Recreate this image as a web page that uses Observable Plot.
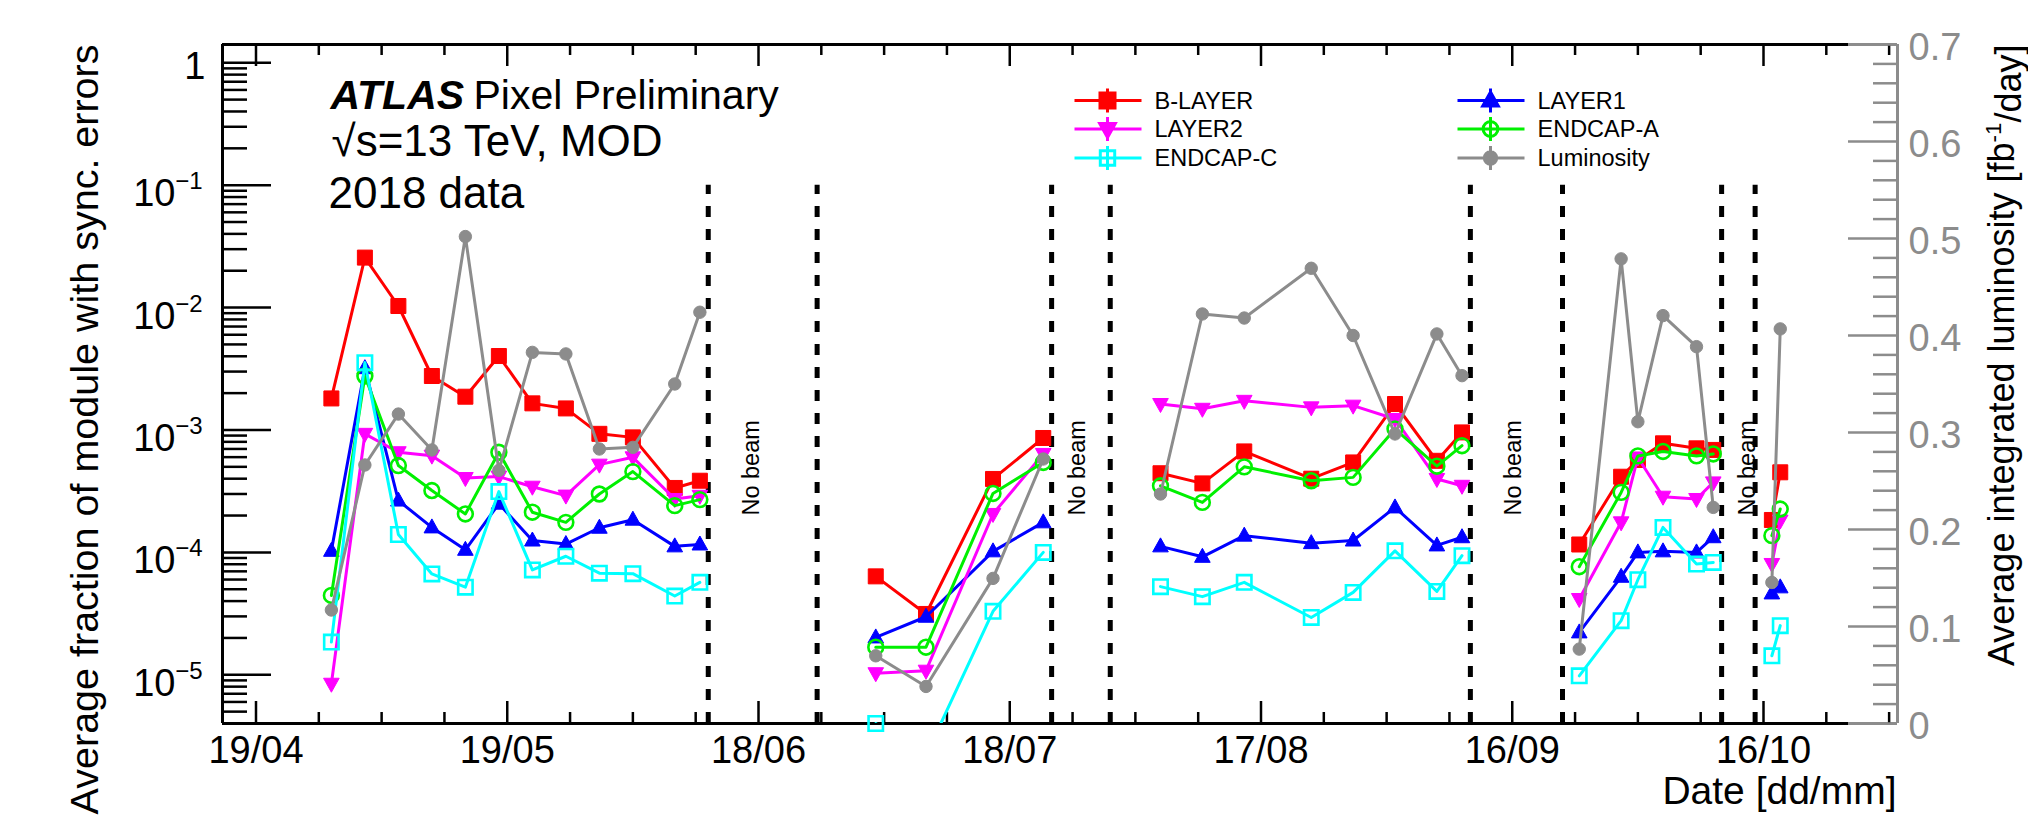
<!DOCTYPE html>
<html><head><meta charset="utf-8">
<script src="https://cdn.jsdelivr.net/npm/d3@7"></script>
<script src="https://cdn.jsdelivr.net/npm/@observablehq/plot@0.6"></script>
<style>
html,body{margin:0;padding:0;background:#fff;}
#chart{position:relative;width:2028px;height:829px;overflow:hidden;background:#fff;}
#chart svg{position:absolute;left:0;top:0;}
</style></head><body><div id="chart"></div>
<script>
// ---------------- data ----------------
const dates = [
  "2018-04-28","2018-05-02","2018-05-06","2018-05-10","2018-05-14","2018-05-18","2018-05-22","2018-05-26","2018-05-30","2018-06-03","2018-06-08","2018-06-11",
  "2018-07-02","2018-07-08","2018-07-16","2018-07-22",
  "2018-08-05","2018-08-10","2018-08-15","2018-08-23","2018-08-28","2018-09-02","2018-09-07","2018-09-10",
  "2018-09-24","2018-09-29","2018-10-01","2018-10-04","2018-10-08","2018-10-10",
  "2018-10-17","2018-10-18"
];
const segments = [1,1,1,1,1,1,1,1,1,1,1,1, 2,2,2,2, 3,3,3,3,3,3,3,3, 4,4,4,4,4,4, 5,5];

const bLayer  = [1.81e-3,2.56e-2,1.03e-2,2.76e-3,1.87e-3,4.02e-3,1.65e-3,1.50e-3,9.3e-4,8.7e-4,3.36e-4,3.85e-4,
                 6.37e-5,3.14e-5,3.98e-4,8.6e-4,
                 4.43e-4,3.66e-4,6.68e-4,4.0e-4,5.43e-4,1.63e-3,5.6e-4,9.55e-4,
                 1.16e-4,4.15e-4,5.69e-4,7.78e-4,7.08e-4,6.87e-4,
                 1.84e-4,4.51e-4];
const layer1  = [1.03e-4,3.2e-3,2.65e-4,1.6e-4,1.05e-4,2.5e-4,1.25e-4,1.17e-4,1.59e-4,1.85e-4,1.12e-4,1.16e-4,
                 2.02e-5,2.98e-5,1.02e-4,1.76e-4,
                 1.12e-4,9.2e-5,1.37e-4,1.19e-4,1.25e-4,2.33e-4,1.14e-4,1.33e-4,
                 2.22e-5,6.32e-5,1.0e-4,1.02e-4,1.0e-4,1.33e-4,
                 4.62e-5,5.18e-5];
const layer2  = [8.45e-6,9.3e-4,6.58e-4,6.17e-4,4.05e-4,4.16e-4,3.44e-4,2.91e-4,5.21e-4,5.98e-4,2.73e-4,2.9e-4,
                 1.03e-5,1.08e-5,2.06e-4,6.37e-4,
                 1.63e-3,1.49e-3,1.73e-3,1.53e-3,1.58e-3,1.23e-3,3.98e-4,3.5e-4,
                 4.16e-5,1.76e-4,5.96e-4,2.85e-4,2.73e-4,3.73e-4,
                 8.04e-5,1.82e-4];
const endcapA = [4.45e-5,2.76e-3,5.12e-4,3.2e-4,2.06e-4,6.58e-4,2.13e-4,1.76e-4,3.0e-4,4.57e-4,2.41e-4,2.7e-4,
                 1.68e-5,1.68e-5,3.03e-4,5.43e-4,
                 3.5e-4,2.56e-4,5.0e-4,3.85e-4,4.1e-4,1.02e-3,5.06e-4,7.44e-4,
                 7.64e-5,3.09e-4,6.14e-4,6.68e-4,6.14e-4,6.37e-4,
                 1.37e-4,2.26e-4];
const endcapC = [1.85e-5,3.55e-3,1.4e-4,6.67e-5,5.2e-5,3.14e-4,7.19e-5,9.3e-5,6.76e-5,6.7e-5,4.4e-5,5.69e-5,
                 4.0e-6,2.2e-6,3.3e-5,1.0e-4,
                 5.25e-5,4.35e-5,5.69e-5,2.94e-5,4.71e-5,1.03e-4,4.8e-5,9.4e-5,
                 9.8e-6,2.77e-5,5.98e-5,1.6e-4,8.04e-5,8.28e-5,
                 1.43e-5,2.52e-5];
const luminosity = [0.117,0.2665,0.319,0.282,0.502,0.261,0.3826,0.381,0.283,0.2847,0.35,0.424,
                 0.0698,0.0382,0.1496,0.2727,
                 0.2366,0.4222,0.418,0.4693,0.40,0.2985,0.4016,0.3586,
                 0.0767,0.479,0.3111,0.4205,0.3885,0.2228,
                 0.1454,0.4068];

const seriesNames = ["B-LAYER","LAYER1","LAYER2","ENDCAP-A","ENDCAP-C","Luminosity"];
const seriesColors = ["#ff0000","#0000ff","#ff00ff","#00f000","#00ffff","#8c8c8c"];

const noBeamEdges = ["2018-06-12","2018-06-25","2018-07-23","2018-07-30","2018-09-11","2018-09-22","2018-10-11","2018-10-15"];
const noBeamLabelDates = ["2018-06-18","2018-07-27","2018-09-17","2018-10-15"];
const noBeamLabelY = 2.0e-4;
const noBeamTopY = 0.1;

const xTickLabels = ["19/04","19/05","18/06","18/07","17/08","16/09","16/10"];
const xTickDates  = ["2018-04-19","2018-05-19","2018-06-18","2018-07-18","2018-08-17","2018-09-16","2018-10-16"];
const yExponents = [-5,-4,-3,-2,-1];
const lumTicks = [0,0.1,0.2,0.3,0.4,0.5,0.6,0.7];

const xDomainStr = ["2018-04-15","2018-11-01"];
const frameBlackEndStr = "2018-10-26T05:00";
const yDomain = [4.0e-6, 1.41];
const lumDomain = [0, 0.7];

// ---------------- setup ----------------
const parse = s => new Date(s.length > 10 ? s + ":00Z" : s + "T00:00:00Z");
const W = 2028, H = 829;
const M = {marginLeft: 222, marginRight: 131, marginTop: 44, marginBottom: 106};
const innerW = W - M.marginLeft - M.marginRight;
const innerH = H - M.marginTop - M.marginBottom;
const xDomain = xDomainStr.map(parse);
const frameBlackEnd = parse(frameBlackEndStr);
const FONT = "'Liberation Sans', Arial, Helvetica, sans-serif";
const GRAY = seriesColors[5];
const LW = 3;

const rowsFor = vals => dates.map((d, i) => ({date: parse(d), seg: segments[i], value: vals[i]}));
const errSeries = [bLayer, layer1, layer2, endcapA, endcapC];

// custom marker shapes
const shapes = {
  square:  c => { c.moveTo(-7.5,-7.5); c.lineTo(7.5,-7.5); c.lineTo(7.5,7.5); c.lineTo(-7.5,7.5); c.closePath(); },
  osquare: c => { c.moveTo(-7.2,-7.2); c.lineTo(7.2,-7.2); c.lineTo(7.2,7.2); c.lineTo(-7.2,7.2); c.closePath(); },
  triUp:   c => { c.moveTo(0,-8.5); c.lineTo(7.8,5.5); c.lineTo(-7.8,5.5); c.closePath(); },
  triDown: c => { c.moveTo(0,8.5); c.lineTo(7.8,-5.5); c.lineTo(-7.8,-5.5); c.closePath(); },
  circle:  c => { c.moveTo(7.4,0); c.arc(0,0,7.4,0,2*Math.PI); c.closePath(); },
  dot:     c => { c.moveTo(6.2,0); c.arc(0,0,6.2,0,2*Math.PI); c.closePath(); }
};
const markerStyle = [
  {shape: "square",  filled: true},
  {shape: "triUp",   filled: true},
  {shape: "triDown", filled: true},
  {shape: "circle",  filled: false},
  {shape: "osquare", filled: false},
  {shape: "dot",     filled: true}
];
const symbolOf = name => ({draw(c){ shapes[name](c); }});
const legendSymbolOf = name => ({draw(c){
  c.moveTo(-33,0); c.lineTo(34,0);
  c.moveTo(0,-12); c.lineTo(0,12);
  shapes[name](c);
}});

// ticks
const xMajor = xTickDates.map(parse);
const xMinor = d3.range(0, 27).filter(k => k % 4 !== 0).map(k => new Date(xMajor[0].getTime() + k * 7.5 * 864e5));
const yMajor = [1e-5,1e-4,1e-3,1e-2,1e-1,1];
const yMinor = [];
for (let e = -6; e <= 0; e++) for (let m = 2; m <= 9; m++) { const v = m * 10 ** e; if (v >= yDomain[0] && v <= yDomain[1]) yMinor.push(v); }
const lumMinor = d3.range(0, 36).map(k => k * 0.02).filter(v => v <= 0.7 && Math.abs(v*10 - Math.round(v*10)) > 1e-6);

const common = {width: W, height: H, ...M,
  style: {background: "transparent", fontFamily: FONT, overflow: "visible"}};

// ---------------- plot 1: error fractions (log) ----------------
const marks1 = [];
// frame
marks1.push(Plot.ruleX([xDomain[0]], {stroke: "black", strokeWidth: 3}));
marks1.push(Plot.ruleY([yDomain[0], yDomain[1]], {x1: xDomain[0], x2: frameBlackEnd, stroke: "black", strokeWidth: 3}));
marks1.push(Plot.ruleY([yDomain[0], yDomain[1]], {x1: frameBlackEnd, x2: xDomain[1], stroke: GRAY, strokeWidth: 3}));
// y ticks (left, inward)
marks1.push(Plot.ruleY(yMajor, {insetRight: innerW - 49, stroke: "black", strokeWidth: 2.5}));
marks1.push(Plot.ruleY(yMinor, {insetRight: innerW - 25, stroke: "black", strokeWidth: 2.5}));
// x ticks bottom & top
marks1.push(Plot.ruleX(xMajor, {insetTop: innerH - 22, stroke: "black", strokeWidth: 2.5}));
marks1.push(Plot.ruleX(xMinor, {insetTop: innerH - 11, stroke: "black", strokeWidth: 2.5}));
marks1.push(Plot.ruleX(xMajor, {insetBottom: innerH - 22, stroke: "black", strokeWidth: 2.5}));
marks1.push(Plot.ruleX(xMinor, {insetBottom: innerH - 11, stroke: "black", strokeWidth: 2.5}));
// tick labels
marks1.push(Plot.text(xMajor, {x: d => d, text: (d, i) => xTickLabels[i], frameAnchor: "bottom", dy: 39, lineAnchor: "bottom", fontSize: 38}));
marks1.push(Plot.text(yExponents, {y: e => 10 ** e, text: () => "10", frameAnchor: "left", dx: -47, dy: 21, textAnchor: "end", lineAnchor: "bottom", fontSize: 38}));
marks1.push(Plot.text(yExponents, {y: e => 10 ** e, text: e => "\u2212" + Math.abs(e), frameAnchor: "left", dx: -20, dy: 4, textAnchor: "end", lineAnchor: "bottom", fontSize: 24}));
marks1.push(Plot.text([1], {y: d => d, text: () => "1", frameAnchor: "left", dx: -17, dy: 16, textAnchor: "end", lineAnchor: "bottom", fontSize: 38}));
// axis titles
marks1.push(Plot.text(["Date [dd/mm]"], {text: d => d, frameAnchor: "bottom-right", dx: -1, dy: 80, textAnchor: "end", lineAnchor: "bottom", fontSize: 39}));
marks1.push(Plot.text(["Average fraction of module with sync. errors"], {text: d => d, frameAnchor: "top-left", dx: -125, dy: 0, rotate: -90, textAnchor: "end", lineAnchor: "bottom", fontSize: 39.5}));
// no beam periods
marks1.push(Plot.ruleX(noBeamEdges.map(parse), {x: d => d, y1: yDomain[0], y2: noBeamTopY, stroke: "black", strokeWidth: 5, strokeDasharray: "11,12"}));
marks1.push(Plot.text(noBeamLabelDates.map(parse), {x: d => d, y: noBeamLabelY, text: () => "No beam", rotate: -90, textAnchor: "start", lineAnchor: "bottom", fontSize: 23.5}));
// series
errSeries.forEach((vals, s) => {
  const rows = rowsFor(vals);
  const col = seriesColors[s];
  const ms = markerStyle[s];
  marks1.push(Plot.line(rows, {x: "date", y: "value", z: "seg", stroke: col, strokeWidth: LW, clip: true}));
  marks1.push(Plot.dot(rows.filter(d => d.value >= yDomain[0]), {x: "date", y: "value", r: 5, symbol: symbolOf(ms.shape),
    fill: ms.filled ? col : "none", stroke: col, strokeWidth: ms.filled ? 1 : 2.6}));
});
// header text
marks1.push(Plot.text(["ATLAS"], {text: d => d, frameAnchor: "top-left", dx: 108, dy: 64, textAnchor: "start", lineAnchor: "bottom", fontSize: 41, fontWeight: "bold", fontStyle: "italic"}));
marks1.push(Plot.text(["Pixel Preliminary"], {text: d => d, frameAnchor: "top-left", dx: 251, dy: 64, textAnchor: "start", lineAnchor: "bottom", fontSize: 41}));
marks1.push(Plot.text(["\u221As=13 TeV, MOD"], {text: d => d, frameAnchor: "top-left", dx: 109, dy: 111, textAnchor: "start", lineAnchor: "bottom", fontSize: 44}));
marks1.push(Plot.text(["2018 data"], {text: d => d, frameAnchor: "top-left", dx: 106, dy: 163, textAnchor: "start", lineAnchor: "bottom", fontSize: 44}));
// legend (2 columns, row-wise)
const legendCols = [{marker: 1107 - 222, text: 1154 - 222}, {marker: 1490 - 222, text: 1537 - 222}];
const legendRows = [100 - 44, 128.5 - 44, 157.5 - 44];
const legendOrder = [0, 1, 2, 3, 4, 5];
legendOrder.forEach((s, k) => {
  const col = legendCols[k % 2], row = legendRows[Math.floor(k / 2)];
  const ms = markerStyle[s];
  marks1.push(Plot.dot([0], {frameAnchor: "top-left", dx: col.marker, dy: row, r: 5, symbol: legendSymbolOf(ms.shape),
    fill: ms.filled ? seriesColors[s] : "none", stroke: seriesColors[s], strokeWidth: LW}));
  marks1.push(Plot.text([seriesNames[s]], {text: d => d, frameAnchor: "top-left", dx: col.text, dy: row + 8.3, textAnchor: "start", lineAnchor: "bottom", fontSize: 23.5}));
});

const plot1 = Plot.plot({...common,
  x: {type: "utc", domain: xDomain, axis: null},
  y: {type: "log", domain: yDomain, axis: null},
  marks: marks1});

// ---------------- plot 2: luminosity (linear, right axis) ----------------
const lumRows = rowsFor(luminosity);
const marks2 = [
  Plot.ruleX([xDomain[1]], {stroke: GRAY, strokeWidth: 3}),
  Plot.ruleY(lumTicks, {insetLeft: innerW - 49, stroke: GRAY, strokeWidth: 2.5}),
  Plot.ruleY(lumMinor, {insetLeft: innerW - 24, stroke: GRAY, strokeWidth: 2.5}),
  Plot.text(lumTicks, {y: d => d, text: d => d === 0 ? "0" : d.toFixed(1), frameAnchor: "right", dx: 11, dy: 15, textAnchor: "start", lineAnchor: "bottom", fontSize: 38, fill: GRAY}),
  Plot.text(["Average integrated luminosity [fb-1/day]"], {text: d => d, frameAnchor: "top-right", dx: 116, dy: 0, rotate: -90, textAnchor: "end", lineAnchor: "bottom", fontSize: 36}),
  Plot.line(lumRows, {x: "date", y: "value", z: "seg", stroke: GRAY, strokeWidth: LW, clip: true}),
  Plot.dot(lumRows, {x: "date", y: "value", r: 5, symbol: symbolOf("dot"), fill: GRAY, stroke: GRAY, strokeWidth: 1})
];
const plot2 = Plot.plot({...common,
  x: {type: "utc", domain: xDomain, axis: null},
  y: {domain: lumDomain, axis: null},
  marks: marks2});

const chart = document.getElementById("chart");
chart.appendChild(plot1);
chart.appendChild(plot2);

// superscript as real text
for (const t of chart.querySelectorAll("text")) {
  if (t.textContent === "Average integrated luminosity [fb-1/day]") {
    t.innerHTML = 'Average integrated luminosity [fb<tspan dy="-0.55em" font-size="0.62em">-1</tspan><tspan dy="0.55em">/day]</tspan>';
  }
}
</script></body></html>
